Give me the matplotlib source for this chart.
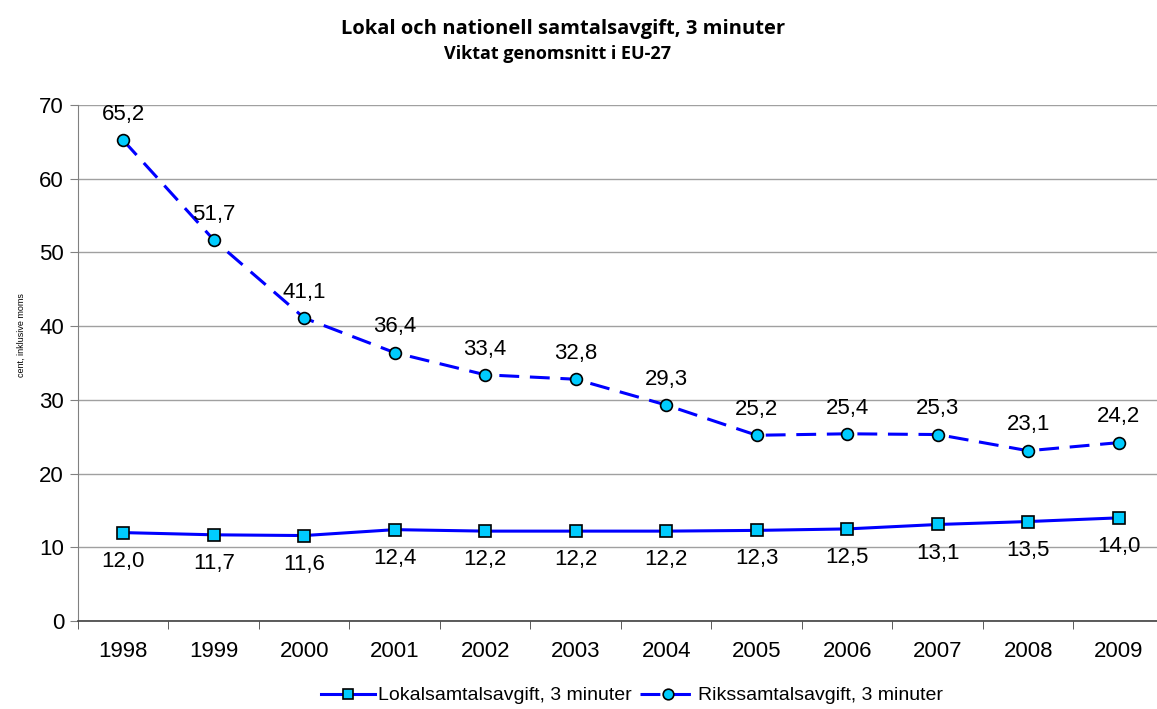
import numpy as np
import matplotlib
matplotlib.use("Agg")
import matplotlib.pyplot as plt

# data
years = ["1998", "1999", "2000", "2001", "2002", "2003", "2004", "2005", "2006", "2007", "2008", "2009"]
lokal = [12.0, 11.7, 11.6, 12.4, 12.2, 12.2, 12.2, 12.3, 12.5, 13.1, 13.5, 14.0]
riks = [65.2, 51.7, 41.1, 36.4, 33.4, 32.8, 29.3, 25.2, 25.4, 25.3, 23.1, 24.2]
lokal_name = "Lokalsamtalsavgift, 3 minuter"
riks_name = "Rikssamtalsavgift, 3 minuter"

plt.rcParams['font.family'] = ['Liberation Sans', 'DejaVu Sans']

fig = plt.figure(figsize=(11.57, 7.09), dpi=100)
ax = fig.add_axes([0.0674, 0.124, 0.9386, 0.728])

x = np.arange(len(years))
ax.plot(x, lokal, color="#0000ff", lw=2.2, marker="s", ms=8.5, mfc="#00ccff", mec="black", mew=1.2,
        label=lokal_name, zorder=3)
ax.plot(x, riks, color="#0000ff", lw=2.2, ls=(0, (6.5, 3.5)), marker="o", ms=8.5, mfc="#00ccff", mec="black",
        mew=1.2, label=riks_name, zorder=3)

fmt = lambda v: f"{v:.1f}".replace(".", ",")
for i in range(len(years)):
    ax.annotate(fmt(riks[i]), (x[i], riks[i]), xytext=(0, 11), textcoords="offset points",
                ha="center", va="bottom", fontsize=16)
    ax.annotate(fmt(lokal[i]), (x[i], lokal[i]), xytext=(0, -13), textcoords="offset points",
                ha="center", va="top", fontsize=16)

ax.set_xlim(-0.5, len(years) - 0.5)
ax.set_ylim(0, 70)
ax.set_yticks(np.arange(0, 71, 10))
ax.set_xticks(x)
ax.set_xticklabels(years, fontsize=16)
ax.set_xticks(np.arange(-0.5, len(years), 1), minor=True)
ax.tick_params(axis="x", which="major", length=0, pad=14)
ax.tick_params(axis="x", which="minor", length=6, color="#404040", direction="out")
ax.tick_params(axis="y", labelsize=16, length=6, color="#808080", direction="out", pad=4)
ax.grid(axis="y", color="#a0a0a0", lw=1)
ax.set_axisbelow(True)
for s in ["top", "right"]:
    ax.spines[s].set_visible(False)
ax.spines["left"].set_color("#808080")
ax.spines["bottom"].set_color("#404040")
ax.spines["bottom"].set_linewidth(1.2)

fig.text(21 / 1157, 1 - 335 / 709, "cent, inklusive moms", rotation=90, ha="center", va="center", fontsize=6.5)

fig.text(0.487, 1 - 29 / 709, "Lokal och nationell samtalsavgift, 3 minuter", ha="center", va="center",
         fontsize=14.5, fontweight="bold", family=["Open Sans", "DejaVu Sans"])
fig.text(0.482, 1 - 54 / 709, "Viktat genomsnitt i EU-27", ha="center", va="center",
         fontsize=13, fontweight="bold", family=["Open Sans", "DejaVu Sans"])

fig.legend(loc="center", bbox_to_anchor=(0.546, 0.019), ncol=2, frameon=False, fontsize=14,
           handlelength=2.8, handletextpad=0.15, columnspacing=0.45, borderpad=0, borderaxespad=0,
           markerscale=0.9)

fig.savefig("out.png", dpi=100)
